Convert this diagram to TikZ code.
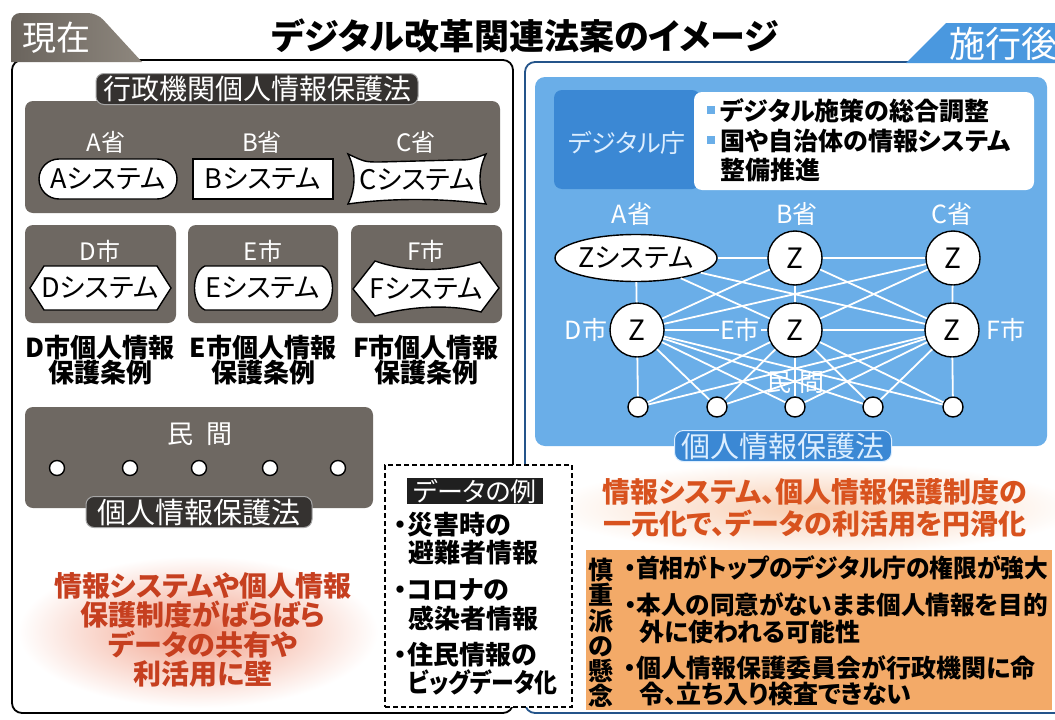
\documentclass[tikz,border=0pt]{standalone}
\usepackage{fontspec}
\usepackage{graphicx}
\setmainfont{Noto Sans CJK JP}[RawFeature=+palt]
\usetikzlibrary{shapes.geometric}
\newcommand\fsz[2]{\fontsize{#1}{#2}\selectfont}
\definecolor{pgray}{HTML}{6E6862}
\definecolor{lblk}{HTML}{353230}
\definecolor{bluebg}{HTML}{6AAEE8}
\definecolor{bluedk}{HTML}{3B88D4}
\definecolor{bluefr}{HTML}{24548A}
\definecolor{tabblue}{HTML}{4A98DF}
\definecolor{paleblue}{HTML}{DCEEFF}
\definecolor{otext}{HTML}{D8521E}
\definecolor{rtext}{HTML}{C63F1F}
\definecolor{obox}{HTML}{F3AA68}
\definecolor{glowl}{HTML}{F2A088}
\definecolor{glowr}{HTML}{F8CDB0}
\definecolor{tabg1}{HTML}{6A645D}
\definecolor{tabg2}{HTML}{8E877E}
\begin{document}
\begin{tikzpicture}[x=1pt,y=-1pt,
  lawlbl/.style={fill=lblk,draw=black!35,line width=1pt,rounded corners=8pt,text=white,inner xsep=7pt,inner ysep=0pt,minimum height=31pt},
  wlbl/.style={text=white,font=\fsz{24}{26},inner sep=0pt},
  shp/.style={draw=black,fill=white,line width=1.4pt},
  systxt/.style={font=\fsz{27}{29},inner sep=0pt},
  capt/.style={font=\bfseries\fsz{26}{25},align=center,inner sep=0pt},
  zc/.style={circle,draw=black,fill=white,line width=1.4pt,minimum size=54pt,inner sep=0pt,font=\fsz{28}{30}},
  pdot/.style={circle,draw=black,fill=white,line width=1.4pt,minimum size=15pt,inner sep=0pt},
  rdot/.style={circle,draw=black,fill=white,line width=1.4pt,minimum size=20pt,inner sep=0pt},
  blbl/.style={text=white,font=\fsz{25}{27},inner sep=1pt},
  net/.style={draw=white,line width=1.8pt},
  exitem/.style={anchor=west,font=\bfseries\fsz{26}{28},inner sep=0pt},
  citem/.style={anchor=west,font=\bfseries\fsz{25}{27},inner sep=0pt},
]
\fill[white] (0,0) rectangle (1055,720);
\useasboundingbox (0,0) rectangle (1055,720);
% ---------- left frame ----------
\draw[line width=1.8pt,rounded corners=10pt] (12,60) rectangle (513,713);
\shade[left color=tabg1,right color=tabg2] (11.1,62) [rounded corners=9pt] -- (11.1,13) -- (97,13) [sharp corners] -- (142,62) -- cycle;
\node[text=white,font=\fsz{34}{36},inner sep=0pt] (now) at (57,38) {現在};
% ---------- title ----------
\node[font=\bfseries\fsz{35}{38},inner sep=0pt] (title) at (525,36) {デジタル改革関連法案のイメージ};
% ---------- right frame ----------
\draw[draw=bluefr,line width=1.8pt,rounded corners=10pt] (525,62) rectangle (1075,713);
\fill[tabblue] (906,63) -- (946,23) -- (1060,23) -- (1060,63) -- cycle;
\node[text=white,font=\fsz{36}{38},inner sep=0pt] (after) at (1003,44) {施行後};

% ---------- left: ministries ----------
\fill[pgray,rounded corners=8pt] (25,101) rectangle (500,213);
\node[lawlbl,font=\fsz{28}{30}] (gyosei) at (257,89) {行政機関個人情報保護法};
\node[wlbl] (sa) at (106,142) {A省};
\node[wlbl] (sb) at (262,142) {B省};
\node[wlbl] (sc) at (416,142) {C省};
\node[shp,rounded corners=20pt,minimum width=138pt,minimum height=40pt,systxt] (asys) at (108,179) {Aシステム};
\node[shp,minimum width=140pt,minimum height=40pt,systxt] (bsys) at (263,179) {Bシステム};
\draw[shp] (348,154) .. controls (365,162) .. (380,162) -- (455,160) .. controls (470,160) .. (486,154)
  .. controls (478,170) and (478,188) .. (486,204) .. controls (440,198) and (390,198) .. (348,204)
  .. controls (356,188) and (356,170) .. (348,154) -- cycle;
\node[systxt] (csys) at (417,180) {Cシステム};

% ---------- left: cities ----------
\fill[pgray,rounded corners=8pt] (25,225) rectangle (176,323);
\fill[pgray,rounded corners=8pt] (188,225) rectangle (338,323);
\fill[pgray,rounded corners=8pt] (351,225) rectangle (502,323);
\node[wlbl] (cd) at (100,251) {D市};
\node[wlbl] (ce) at (263,251) {E市};
\node[wlbl] (cf) at (426,251) {F市};
\draw[shp] (30,288) -- (44,266) -- (157,266) -- (171,288) -- (157,310) -- (44,310) -- cycle;
\node[systxt] (dsys) at (100,288) {Dシステム};
\draw[shp] (205,266) -- (322,266) .. controls (336,272) and (336,304) .. (322,310) -- (205,310) .. controls (191,304) and (191,272) .. (205,266) -- cycle;
\node[systxt] (esys) at (263,288) {Eシステム};
\draw[shp] (353,289) -- (375,261) .. controls (400,270) and (440,274) .. (480,262) -- (499,288) -- (481,312) .. controls (450,304) and (410,306) .. (375,316) -- cycle;
\node[systxt] (fsys) at (426,289) {Fシステム};
\node[capt] (dcap) at (100,360) {D市個人情報\\保護条例};
\node[capt] (ecap) at (263,360) {E市個人情報\\保護条例};
\node[capt] (fcap) at (426,360) {F市個人情報\\保護条例};

% ---------- left: private sector ----------
\fill[pgray,rounded corners=8pt] (25,407) rectangle (373,508);
\node[wlbl,font=\fsz{26}{28}] (minkan) at (200,434) {民\hspace{14pt}間};
\node[pdot] (q1) at (57,468) {};
\node[pdot] (q2) at (130,468) {};
\node[pdot] (q3) at (199,468) {};
\node[pdot] (q4) at (270,468) {};
\node[pdot] (q5) at (338,468) {};
\node[lawlbl,font=\fsz{29}{31},minimum width=226pt] (kojinL) at (199,512) {個人情報保護法};

% ---------- left: problem ----------
\shade[inner color=glowl,outer color=white] (198,632) ellipse [x radius=180pt,y radius=76pt];
\node[font=\bfseries\fsz{28}{29},text=rtext,align=center,inner sep=0pt] (prob1) at (203,600) {情報システムや個人情報\\保護制度がばらばら};
\node[font=\bfseries\fsz{28}{29},text=rtext,align=center,inner sep=0pt] (prob2) at (203,659) {データの共有や\\利活用に壁};

% ---------- right: blue area ----------
\fill[bluebg,rounded corners=10pt] (535,77) rectangle (1047,446);
\fill[bluedk,rounded corners=8pt] (554,90) rectangle (700,189);
\node[text=paleblue,font=\fsz{25}{27},inner sep=0pt] (agency) at (627,143) {デジタル庁};
\fill[white,rounded corners=8pt] (694,92) rectangle (1034,190);
\fill[bluebg] (707,106) rectangle (715,114);
\fill[bluebg] (707,136) rectangle (715,144);
\node[anchor=west,font=\bfseries\fsz{25}{27},inner sep=0pt] (role1) at (720,111) {デジタル施策の総合調整};
\node[anchor=west,font=\bfseries\fsz{25}{27},inner sep=0pt] (role2) at (720,141) {国や自治体の情報システム};
\node[anchor=west,font=\bfseries\fsz{25}{27},inner sep=0pt] (role3) at (720,170) {整備推進};

\node[blbl] (ra) at (632,214) {A省};
\node[blbl] (rb) at (797,214) {B省};
\node[blbl] (rc) at (952,214) {C省};
\node[ellipse,draw=black,fill=white,line width=1.4pt,minimum width=148pt,minimum height=47pt,inner sep=0pt,font=\fsz{27}{29}] (zs) at (636,258) {Zシステム};
\node[zc] (zb) at (795,258) {Z};
\node[zc] (zcc) at (953,258) {Z};
\node[zc] (zd) at (637,330) {Z};
\node[zc] (ze) at (795,330) {Z};
\node[zc] (zf) at (952,330) {Z};
\node[rdot] (p1) at (638,407) {};
\node[rdot] (p2) at (717,407) {};
\node[rdot] (p3) at (795,407) {};
\node[rdot] (p4) at (873,407) {};
\node[rdot] (p5) at (953,407) {};
\foreach \a/\b in {zs/zb,zb/zcc,zd/ze,ze/zf,zs/zd,zb/ze,zcc/zf,zs/ze,zs/zf,zb/zd,zb/zf,zcc/zd,zcc/ze}
  \draw[net] (\a) -- (\b);
\foreach \a in {zd,ze,zf}
  \foreach \b in {p1,p2,p3,p4,p5}
    \draw[net] (\a) -- (\b);
\node[blbl] (rd) at (586,330) {D市};
\node[blbl,fill=bluebg] (re) at (740,330) {E市};
\node[blbl] (rf) at (1006,330) {F市};
\node[blbl] (rmin) at (795,383) {民\hspace{8pt}間};
\node[fill=bluedk,draw=paleblue,line width=1pt,rounded corners=9pt,text=paleblue,font=\fsz{29}{31},minimum width=217pt,minimum height=31pt,inner sep=0pt] (kojinR) at (783,446) {個人情報保護法};

% ---------- right: effect ----------
\shade[inner color=glowr,outer color=white] (815,508) ellipse [x radius=265pt,y radius=46pt];
\node[font=\bfseries\fsz{28}{32},text=otext,align=center,inner sep=0pt] (effect) at (815,508) {情報システム、個人情報保護制度の\\一元化で、データの利活用を円滑化};

% ---------- right: concerns ----------
\fill[obox] (586,550) rectangle (1052,710);
\node[font=\bfseries\fsz{25}{25.2},align=center,inner sep=0pt] (kenen) at (601,633) {慎\\重\\派\\の\\懸\\念};
\node[citem] (c1) at (624,568) {\scalebox{0.95}[1]{・首相がトップのデジタル庁の権限が強大}};
\node[citem] (c2) at (624,605) {\scalebox{0.985}[1]{・本人の同意がないまま個人情報を目的}};
\node[citem] (c2b) at (639,632) {外に使われる可能性};
\node[citem] (c3) at (624,668) {・個人情報保護委員会が行政機関に命};
\node[citem] (c3b) at (639,694) {令、立ち入り検査できない};

% ---------- data examples ----------
\node[draw=black,dashed,dash pattern=on 5pt off 3pt,line width=1.5pt,fill=white,minimum width=187pt,minimum height=242pt,inner sep=0pt] (exbox) at (478.5,586) {};
\node[fill=black!88,text=white,font=\fsz{26}{28},minimum width=136pt,minimum height=26pt,inner sep=0pt] (exlbl) at (475,491) {データの例};
\node[exitem] (e1) at (394,525) {・災害時の};
\node[exitem] (e1b) at (408,553) {避難者情報};
\node[exitem] (e2) at (394,590) {・コロナの};
\node[exitem] (e2b) at (408,618) {感染者情報};
\node[exitem] (e3) at (394,655) {・住民情報の};
\node[exitem] (e3b) at (408,682) {\scalebox{0.88}[1]{ビッグデータ化}};
\end{tikzpicture}
\end{document}
